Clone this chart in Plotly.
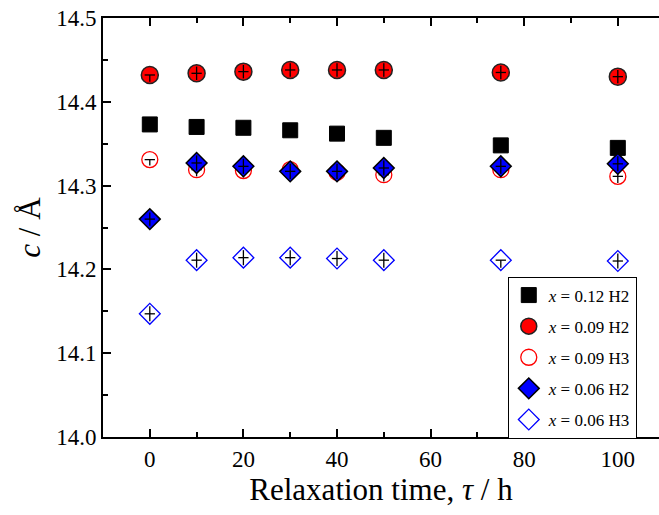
import plotly.graph_objects as go

# Relaxation time (h)
tau = [0, 10, 20, 30, 40, 50, 75, 100]

# Lattice parameter c (Å)
c_012_H2 = [14.373, 14.370, 14.369, 14.366, 14.362, 14.357, 14.348, 14.345]
c_009_H2 = [14.432, 14.434, 14.436, 14.438, 14.438, 14.438, 14.435, 14.430]
c_009_H3 = [14.331, 14.319, 14.318, 14.319, 14.316, 14.313, 14.319, 14.311]
c_006_H2 = [14.260, 14.327, 14.323, 14.317, 14.317, 14.321, 14.323, 14.326]
c_006_H3 = [14.147, 14.211, 14.214, 14.214, 14.213, 14.211, 14.211, 14.210]

# error bars (Å), plus / minus
err_012_H2_p = [0.005] * 8
err_012_H2_m = [0.005] * 8
err_009_H2_p = [0.000, 0.008, 0.008, 0.008, 0.008, 0.008, 0.008, 0.008]
err_009_H2_m = [0.008, 0.008, 0.008, 0.008, 0.008, 0.008, 0.008, 0.008]
err_009_H3_p = [0.000, 0.008, 0.008, 0.008, 0.008, 0.008, 0.008, 0.008]
err_009_H3_m = [0.007, 0.008, 0.008, 0.008, 0.008, 0.008, 0.008, 0.008]
err_006_H2_p = [0.008, 0.009, 0.009, 0.009, 0.009, 0.009, 0.009, 0.009]
err_006_H2_m = [0.008, 0.009, 0.009, 0.009, 0.009, 0.009, 0.009, 0.009]
err_006_H3_p = [0.009, 0.009, 0.009, 0.009, 0.009, 0.009, 0.000, 0.009]
err_006_H3_m = [0.009, 0.009, 0.009, 0.009, 0.009, 0.009, 0.009, 0.009]
tau_err = 1.1

names = ["<i>x</i> = 0.12 H2", "<i>x</i> = 0.09 H2", "<i>x</i> = 0.09 H3",
         "<i>x</i> = 0.06 H2", "<i>x</i> = 0.06 H3"]

series = [
    (c_012_H2, err_012_H2_p, err_012_H2_m,
     dict(symbol="square", size=15, color="black", line=dict(color="black", width=1))),
    (c_009_H2, err_009_H2_p, err_009_H2_m,
     dict(symbol="circle", size=17, color="#ff0000", line=dict(color="#222", width=1.5))),
    (c_009_H3, err_009_H3_p, err_009_H3_m,
     dict(symbol="circle-open", size=16, color="#ff0000", line=dict(color="#ff0000", width=1.3))),
    (c_006_H2, err_006_H2_p, err_006_H2_m,
     dict(symbol="diamond", size=16, color="#0000ff", line=dict(color="black", width=1.5))),
    (c_006_H3, err_006_H3_p, err_006_H3_m,
     dict(symbol="diamond-open", size=16, color="#0000ff", line=dict(color="#0000ff", width=1.3))),
]

fig = go.Figure()
for i, (name, (yv, ep, em, mk)) in enumerate(zip(names, series)):
    fig.add_trace(go.Scatter(x=tau, y=yv, mode="markers", name=name, marker=mk,
                             legendgroup=f"g{i}"))
    fig.add_trace(go.Scatter(
        x=tau, y=yv, mode="markers", showlegend=False, hoverinfo="skip",
        legendgroup=f"g{i}",
        marker=dict(size=1, opacity=0),
        error_y=dict(type="data", symmetric=False, array=ep, arrayminus=em,
                     color="black", thickness=1.3, width=0),
        error_x=dict(type="constant", value=tau_err, color="black",
                     thickness=1.3, width=0),
    ))

serif = "Liberation Serif, Times New Roman, serif"
fig.update_layout(
    width=659, height=515,
    margin=dict(l=103, r=0, t=18, b=78),
    paper_bgcolor="white", plot_bgcolor="white",
    font=dict(family=serif, color="black"),
    showlegend=True,
    legend=dict(
        x=0.728, y=0.383, xanchor="left", yanchor="top",
        bgcolor="white", bordercolor="black", borderwidth=1,
        font=dict(family=serif, size=17, color="black"),
        tracegroupgap=6, itemsizing="trace",
    ),
    xaxis=dict(
        range=[-10, 108.8], tickmode="linear", tick0=0, dtick=20,
        ticks="inside", ticklen=8, tickwidth=1.5, tickcolor="black",
        showline=True, linewidth=2, linecolor="black", mirror="ticks",
        showgrid=False, zeroline=False,
        tickfont=dict(family=serif, size=23, color="black"),
        minor=dict(dtick=10, tick0=0, ticks="inside", ticklen=5, tickwidth=1.5, tickcolor="black"),
        title=dict(text="Relaxation time, <i>τ</i> / h",
                   font=dict(family=serif, size=31, color="black"), standoff=8),
    ),
    yaxis=dict(
        range=[14.0, 14.5], tickmode="linear", tick0=14.0, dtick=0.1, tickformat=".1f",
        ticks="inside", ticklen=8, tickwidth=1.5, tickcolor="black",
        showline=True, linewidth=2, linecolor="black",
        showgrid=False, zeroline=False,
        tickfont=dict(family=serif, size=23, color="black"),
        minor=dict(dtick=0.05, tick0=14.0, ticks="inside", ticklen=5, tickwidth=1.5, tickcolor="black"),
        title=dict(text="<i>c</i> / Å",
                   font=dict(family=serif, size=31, color="black"), standoff=6),
    ),
)

fig.write_html("out.html")
